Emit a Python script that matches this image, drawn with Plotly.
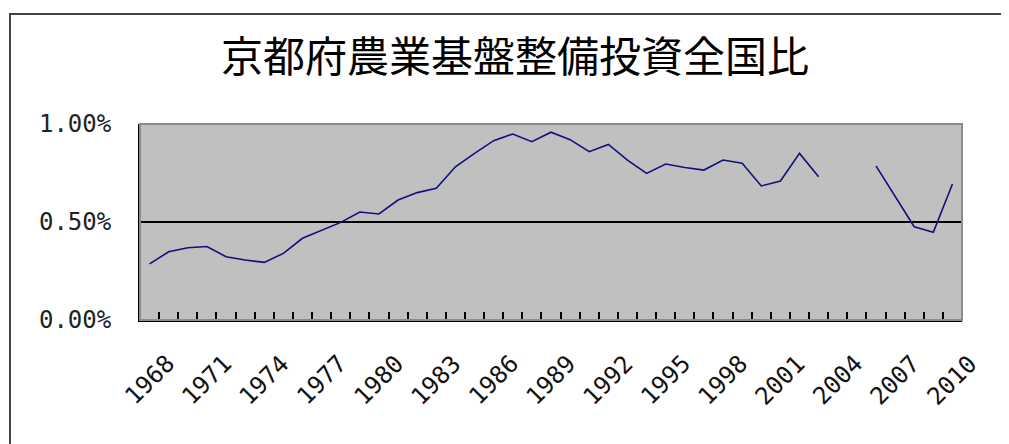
import plotly.graph_objects as go

title_text = "京都府農業基盤整備投資全国比"
years = list(range(1968, 2011))
share = [0.00286, 0.00348, 0.00369, 0.00375, 0.00323, 0.00306, 0.00294, 0.00340,
         0.00417, 0.00459, 0.00498, 0.00551, 0.00541, 0.00612, 0.00650, 0.00672,
         0.00782, 0.00850, 0.00915, 0.00949, 0.00910, 0.00958, 0.00920, 0.00859,
         0.00896, 0.00816, 0.00748, 0.00796, 0.00778, 0.00765, 0.00816, 0.00800,
         0.00684, 0.00709, 0.00850, 0.00731, None, None, 0.00786, 0.00629,
         0.00476, 0.00447, 0.00694]
y_tick_vals = [0.0, 0.005, 0.01]
y_tick_text = ["0.00%", "0.50%", "1.00%"]
x_label_years = list(range(1968, 2011, 3))

# the page body has an 8px default margin; work in screen pixels and offset
OFF = 8
W, H = 1009, 444
L, T = 140 - OFF, 124 - OFF
R = W - (962 - OFF)
B = H - (320 - OFF)
pw, ph = W - L - R, H - T - B

def px_to_paper_x(px):
    return (px - OFF - L) / pw

def py_to_paper_y(py):
    return (H - B - (py - OFF)) / ph

fig = go.Figure()
fig.add_trace(go.Scatter(x=years, y=share, mode="lines",
                         line=dict(color="#10107a", width=1.6),
                         connectgaps=False, hoverinfo="x+y"))

for yr in x_label_years:
    fig.add_annotation(x=yr, xref="x", y=py_to_paper_y(380), yref="paper",
                       text=str(yr), showarrow=False, textangle=-45,
                       xanchor="center", yanchor="middle",
                       font=dict(family="DejaVu Sans Mono", size=24, color="#111111"))

# outer chart-area border (extends beyond the right and bottom edges)
fig.add_shape(type="rect", xref="paper", yref="paper",
              x0=px_to_paper_x(10), x1=px_to_paper_x(1030),
              y0=py_to_paper_y(470), y1=py_to_paper_y(14),
              line=dict(color="#444444", width=2), layer="below")
# plot area border (gray)
fig.add_shape(type="rect", xref="paper", yref="paper", x0=0, x1=1, y0=0, y1=1,
              line=dict(color="#8c8c8c", width=2), layer="above")

fig.update_layout(
    width=W, height=H,
    margin=dict(l=L, r=R, t=T, b=B),
    paper_bgcolor="white",
    plot_bgcolor="#c0c0c0",
    showlegend=False,
    title=dict(text=title_text, x=px_to_paper_x(515), xref="paper", xanchor="center",
               y=1 - (57 - OFF) / H, yanchor="middle",
               font=dict(family="Noto Sans CJK JP", size=42, color="#000000")),
    xaxis=dict(range=[1967.5, 2010.5], tick0=1967.5, dtick=1, showticklabels=False,
               ticks="inside", ticklen=8, tickcolor="black", tickwidth=1.5,
               showgrid=False, zeroline=False, showline=True, linecolor="black",
               linewidth=2, layer="above traces"),
    yaxis=dict(range=[0, 0.01], tickvals=y_tick_vals, ticktext=y_tick_text,
               ticks="", showgrid=True, gridcolor="black", gridwidth=1.5,
               zeroline=False, showline=True, linecolor="black", linewidth=2,
               ticklabelstandoff=22,
               tickfont=dict(family="DejaVu Sans Mono", size=24, color="#222222")),
)

fig.write_html("out.html")
